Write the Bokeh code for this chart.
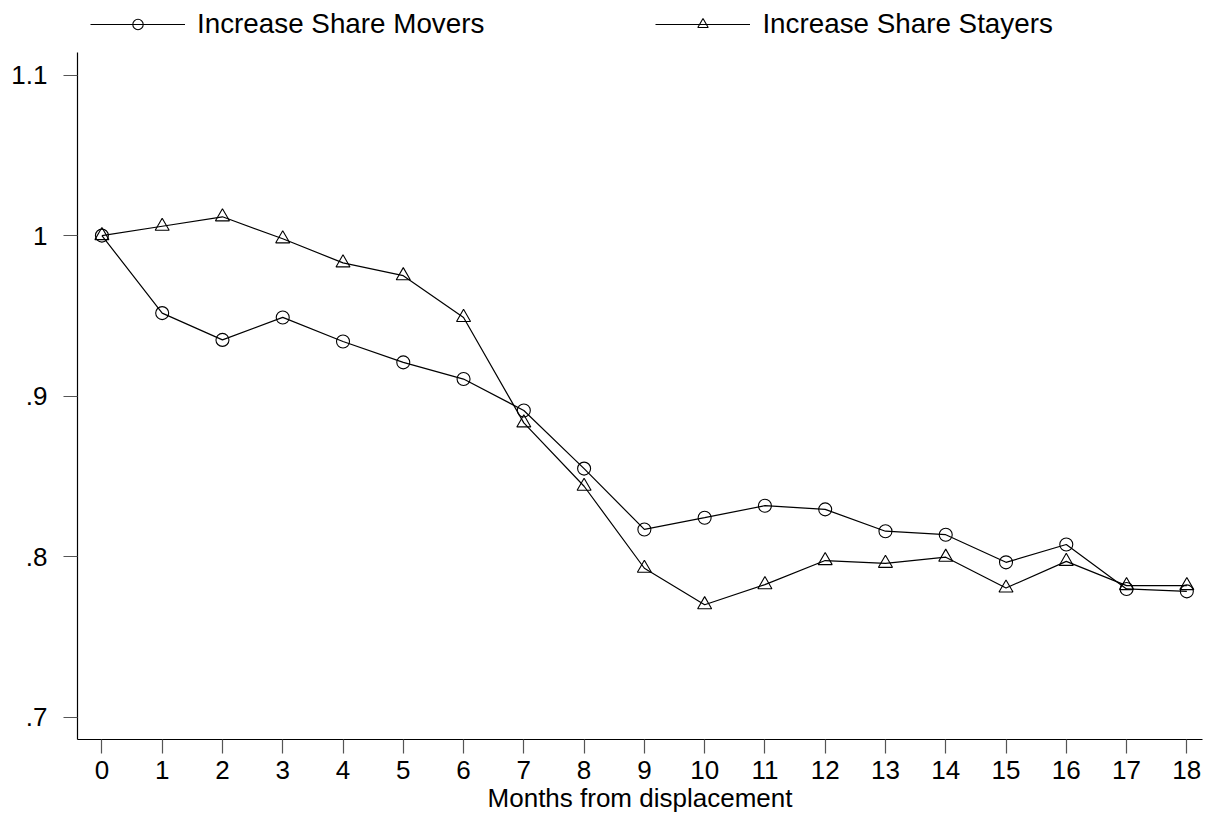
from bokeh.plotting import figure
from bokeh.models import Legend, LegendItem, FixedTicker, Range1d
from bokeh.embed import file_html
from bokeh.resources import INLINE

months = list(range(19))
movers = [1.0, 0.9517, 0.935, 0.949, 0.934, 0.921, 0.9106, 0.891, 0.8548, 0.8169,
          0.8242, 0.8317, 0.8294, 0.8158, 0.8136, 0.7964, 0.8075, 0.7798, 0.7783]
stayers = [1.0, 1.0058, 1.0117, 0.998, 0.983, 0.975, 0.949, 0.8833, 0.8438, 0.7927,
           0.770, 0.7825, 0.7975, 0.7958, 0.7996, 0.7804, 0.797, 0.7819, 0.7819]
series_names = ["Increase Share Movers", "Increase Share Stayers"]
y_ticks = [0.7, 0.8, 0.9, 1.0, 1.1]
y_tick_labels = [".7", ".8", ".9", "1", "1.1"]
x_label = "Months from displacement"

FONT = "Liberation Sans"

p = figure(width=1210, height=815, output_backend="svg", toolbar_location=None,
           x_range=Range1d(-0.405, 18.26), y_range=Range1d(0.686, 1.1415),
           min_border_left=77, min_border_right=8, min_border_top=8, min_border_bottom=76)
p.outline_line_color = None
p.xgrid.visible = False
p.ygrid.visible = False
p.background_fill_color = "white"
p.border_fill_color = "white"

l1 = p.line(months, movers, line_color="black", line_width=1.2)
s1 = p.scatter(months, movers, marker="circle", size=13, fill_color=None,
               line_color="black", line_width=1.1)
l2 = p.line(months, stayers, line_color="black", line_width=1.2)
s2 = p.scatter(months, stayers, marker="triangle", size=14, fill_color=None,
               line_color="black", line_width=1.1)

for ax in (p.xaxis[0], p.yaxis[0]):
    ax.axis_line_color = "black"
    ax.axis_line_width = 1.2
    ax.major_tick_line_color = "#555555"
    ax.major_tick_line_width = 1.2
    ax.major_tick_out = 14
    ax.major_tick_in = 0
    ax.minor_tick_line_color = None
    ax.major_label_text_font = FONT
    ax.major_label_text_font_size = "26px"
    ax.major_label_text_color = "black"

p.xaxis.ticker = FixedTicker(ticks=months)
p.xaxis.major_label_standoff = 7
p.xaxis.axis_label = x_label
p.xaxis.axis_label_text_font = FONT
p.xaxis.axis_label_text_font_size = "26px"
p.xaxis.axis_label_text_font_style = "normal"
p.xaxis.axis_label_text_color = "black"
p.xaxis.axis_label_standoff = 1

p.yaxis.ticker = FixedTicker(ticks=y_ticks)
p.yaxis.bounds = (0.686, 1.114)
p.yaxis.major_label_overrides = {t: l for t, l in zip(y_ticks, y_tick_labels)}
p.yaxis.major_label_standoff = 16
p.yaxis.major_label_orientation = "horizontal"

legend = Legend(items=[LegendItem(label=series_names[0], renderers=[l1, s1]),
                       LegendItem(label=series_names[1], renderers=[l2, s2])],
                orientation="horizontal", location=(13, 699),
                glyph_width=95, glyph_height=26, label_height=26,
                label_standoff=12, spacing=171, padding=0, margin=0,
                border_line_color=None, background_fill_alpha=0,
                label_text_font=FONT, label_text_font_size="27.8px",
                label_text_color="black")
p.add_layout(legend, "center")

open("out.html", "w").write(file_html(p, INLINE))
